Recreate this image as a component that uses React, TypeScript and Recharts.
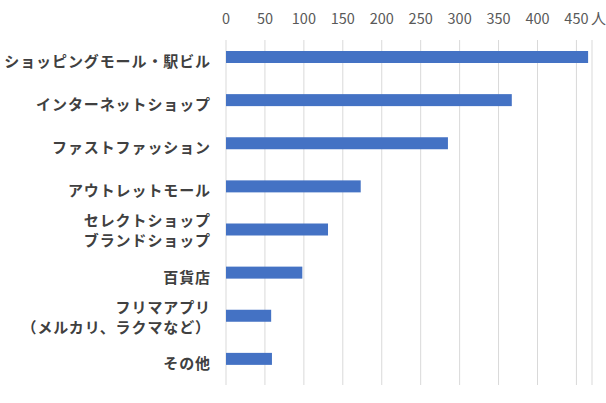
import { BarChart, Bar, XAxis, YAxis, CartesianGrid } from "recharts";

const categories = [
  "ショッピングモール・駅ビル",
  "インターネットショップ",
  "ファストファッション",
  "アウトレットモール",
  "セレクトショップ\nブランドショップ",
  "百貨店",
  "フリマアプリ\n（メルカリ、ラクマなど）",
  "その他",
];
const counts = [465, 367, 285, 173, 131, 98, 58, 59];
const xTicks = [0, 50, 100, 150, 200, 250, 300, 350, 400, 450];
const unitLabel = "人";

const data = categories.map((name, i) => ({ name, count: counts[i] }));

const JP_FONT = "'Noto Sans CJK JP', 'Noto Sans', sans-serif";

function TopTick(props: any) {
  const { x, y, payload } = props;
  const last = payload.value === xTicks[xTicks.length - 1];
  return (
    <g>
      <text x={x} y={y} textAnchor="middle" fill="#595959" fontSize={14.5} fontFamily={JP_FONT}>
        {payload.value}
      </text>
      {last && (
        <text x={x + 22} y={y} textAnchor="middle" fill="#595959" fontSize={15} fontFamily={JP_FONT}>
          {unitLabel}
        </text>
      )}
    </g>
  );
}

function LeftTick(props: any) {
  const { x, y, payload } = props;
  const lines = String(payload.value).split("\n");
  const offsets = lines.length === 1 ? [0] : [-13, 7];
  return (
    <g>
      {lines.map((line, i) => (
        <text
          key={i}
          x={x + 1}
          y={y + offsets[i]}
          dy="0.36em"
          textAnchor="end"
          fill="#404040"
          fontSize={15}
          fontWeight={700}
          letterSpacing={0.9}
          fontFamily={JP_FONT}
        >
          {line}
        </text>
      ))}
    </g>
  );
}

function ShiftedBar(props: any) {
  const { x, y, width, height, fill } = props;
  return <rect x={x} y={y - 5} width={width} height={height} fill={fill} />;
}

export default function App() {
  return (
    <div style={{ position: "absolute", left: 0, top: 0, width: 606, height: 403, background: "#fff" }}>
      <BarChart
        width={606}
        height={403}
        data={data}
        layout="vertical"
        margin={{ top: 0, right: 14, left: 0, bottom: 18 }}
        barCategoryGap={0}
      >
        <CartesianGrid horizontal={false} stroke="#d9d9d9" />
        <XAxis
          type="number"
          orientation="top"
          domain={[0, 470]}
          ticks={xTicks}
          height={40}
          axisLine={false}
          tickLine={false}
          tickSize={0}
          tickMargin={16}
          tick={<TopTick />}
          interval={0}
        />
        <YAxis
          type="category"
          dataKey="name"
          width={226}
          axisLine={false}
          tickLine={false}
          tickSize={0}
          tickMargin={16}
          tick={<LeftTick />}
          interval={0}
        />
        <Bar dataKey="count" fill="#4472C4" barSize={12} shape={<ShiftedBar />} isAnimationActive={false} />
      </BarChart>
    </div>
  );
}
